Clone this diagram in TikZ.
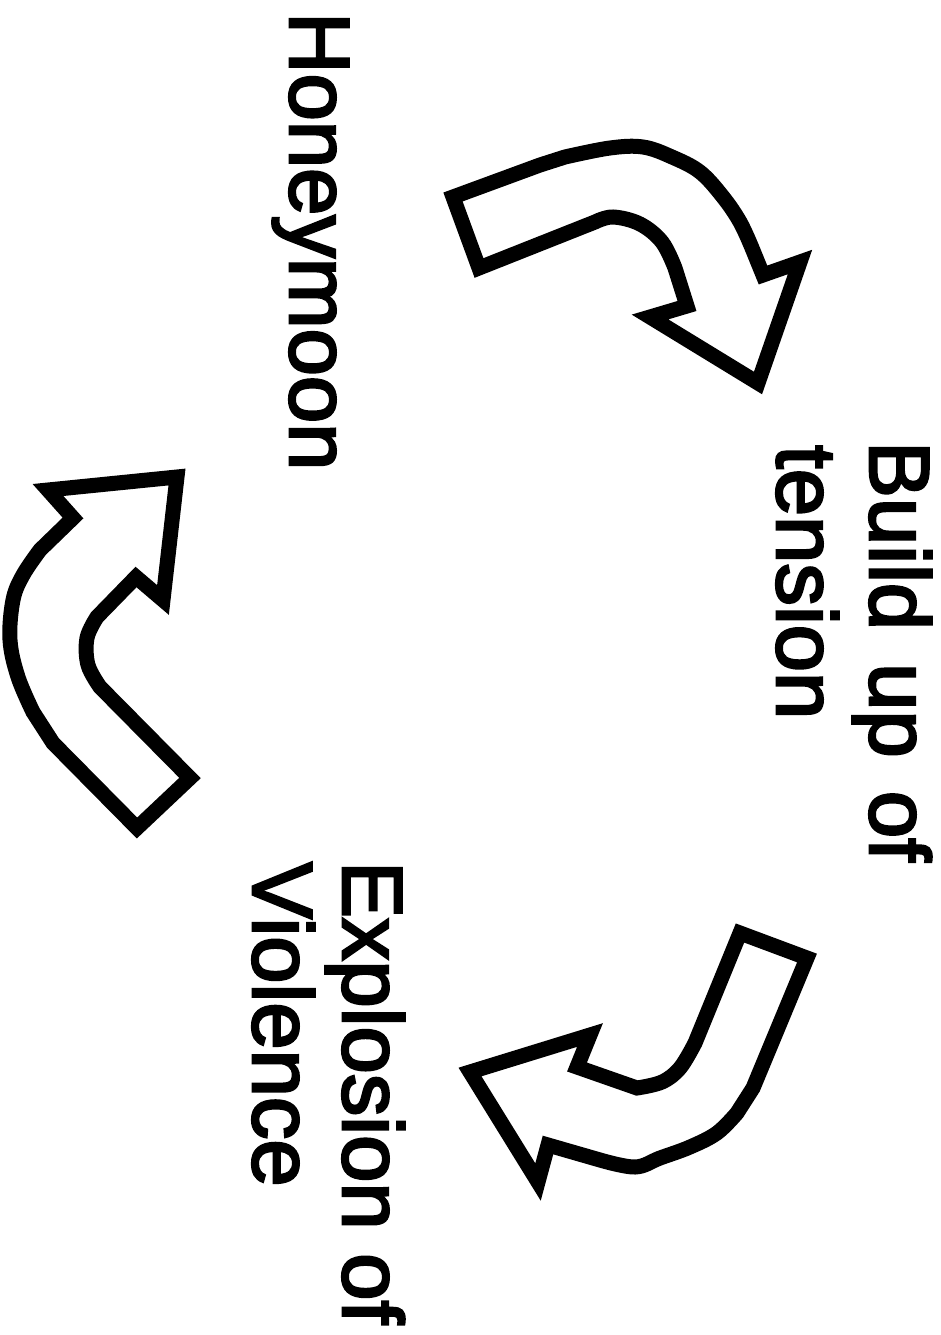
\documentclass[tikz,border=0pt]{standalone}
\usepackage{fontspec}
\newfontfamily\labfont{Liberation Sans}[FakeBold=3]
\begin{document}
\begin{tikzpicture}[x=1pt,y=-1pt,
  arrowshape/.style={draw=black,fill=white,line width=15pt,line join=miter,miter limit=10},
  lab/.style={font=\labfont\fontsize{85}{92}\selectfont,rotate=-90,anchor=base west,inner sep=0pt}]
\useasboundingbox[fill=white] (0,0) rectangle (940,1335);
% arrow 1 (top)
\draw[arrowshape] (453,197) -- (540,165)
  -- plot[smooth,tension=0.6] coordinates {(565,157) (610,148) (643,147) (672,157) (700,172) (723,197) (740,222) (752,248)}
  -- (763,275) -- (800,262) -- (758,383) -- (650,317) -- (687,306)
  -- plot[smooth,tension=0.6] coordinates {(675,268) (662,242) (640,224) (613,217) (595,222)}
  -- (479,268) -- cycle;
% arrow 2 (left)
\draw[arrowshape] (137,828) -- (53,743)
  -- plot[smooth,tension=0.6] coordinates {(33,712) (18,677) (10,640) (13,600) (23,575) (40,550)}
  -- (73,518) -- (48,490) -- (177,477) -- (163,600) -- (136,577)
  -- plot[smooth,tension=0.6] coordinates {(97,617) (87,638) (88,665) (100,687)}
  -- (190,778) -- cycle;
% arrow 3 (bottom)
\draw[arrowshape] (740,933) -- (807,958) -- (753,1088)
  -- plot[smooth,tension=0.6] coordinates {(737,1113) (717,1133) (690,1147) (660,1158) (635,1167) (600,1160)}
  -- (548,1145) -- (538,1182) -- (470,1072) -- (590,1035) -- (577,1067)
  -- plot[smooth,tension=0.6] coordinates {(637,1088) (662,1082) (680,1068) (695,1043)}
  -- cycle;
\node[lab] (honey) at (290,12) {Honeymoon};
\node[lab] (buildA) at (870,441) {Build\hspace{0.39em}up\hspace{0.39em}of};
\node[lab] (buildB) at (777,445) {tension};
\node[lab] (explA) at (343,861) {Explosion of};
\node[lab] (explB) at (253,862) {Violence};
\end{tikzpicture}
\end{document}
